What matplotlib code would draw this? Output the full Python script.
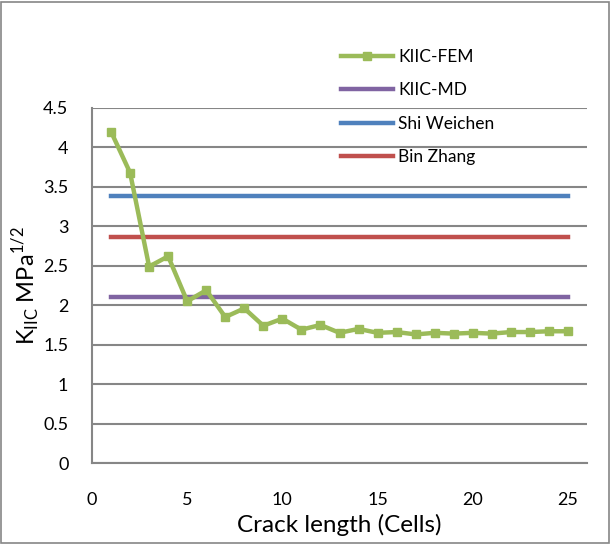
import matplotlib
matplotlib.use("Agg")
import matplotlib.pyplot as plt
from matplotlib.patches import Rectangle

plt.rcParams['font.family'] = ['Lato', 'DejaVu Sans']
plt.rcParams['mathtext.fontset'] = 'custom'
plt.rcParams['mathtext.rm'] = 'Lato'

# Data
crack_cells = list(range(1, 26))
kiic_fem = [4.20, 3.68, 2.49, 2.62, 2.05, 2.19, 1.85, 1.96, 1.74, 1.83,
            1.69, 1.75, 1.65, 1.70, 1.65, 1.66, 1.63, 1.65, 1.64, 1.65,
            1.64, 1.66, 1.66, 1.67, 1.67]
kiic_md = 2.10
shi_weichen = 3.38
bin_zhang = 2.87

series_labels = ['KIIC-FEM', 'KIIC-MD', 'Shi Weichen', 'Bin Zhang']
colors = ['#9BBB59', '#8064A2', '#4F81BD', '#C0504D']
x_ticks = [0, 5, 10, 15, 20, 25]
y_ticks = [0, 0.5, 1, 1.5, 2, 2.5, 3, 3.5, 4, 4.5]

fig = plt.figure(figsize=(6.10, 5.44), dpi=100)
ax = fig.add_axes([92/610, 1-463/544, (587-92)/610, (463-108)/544])

ax.plot(crack_cells, kiic_fem, color=colors[0], lw=3.2, marker='s', ms=6,
        label=series_labels[0], zorder=5)
ax.plot(crack_cells, [kiic_md]*len(crack_cells), color=colors[1], lw=3.2,
        label=series_labels[1], zorder=4)
ax.plot(crack_cells, [shi_weichen]*len(crack_cells), color=colors[2], lw=3.2,
        label=series_labels[2], zorder=4)
ax.plot(crack_cells, [bin_zhang]*len(crack_cells), color=colors[3], lw=3.2,
        label=series_labels[3], zorder=4)

ax.set_xlim(0, 26)
ax.set_ylim(0, 4.5)
ax.set_xticks(x_ticks)
ax.set_yticks(y_ticks)
ax.set_yticklabels(['0', '0.5', '1', '1.5', '2', '2.5', '3', '3.5', '4', '4.5'])
ax.tick_params(axis='both', length=0, labelsize=13, colors='black')
ax.tick_params(axis='x', pad=21)
ax.tick_params(axis='y', pad=17)
ax.grid(axis='y', color='#868686', lw=1.5)
ax.set_axisbelow(True)
for s in ['top', 'right']:
    ax.spines[s].set_visible(False)
for s in ['left', 'bottom']:
    ax.spines[s].set_color('#868686')
    ax.spines[s].set_linewidth(1.5)

ax.set_xlabel('Crack length (Cells)', fontsize=17.5, labelpad=4)
ax.set_ylabel(r'K$_{\mathregular{IIC}}$ MPa$^{\mathregular{1/2}}$', fontsize=17, labelpad=0)

leg = fig.legend(loc='upper left', bbox_to_anchor=(334/610, 1-42/544),
                 frameon=False, fontsize=12.5, handlelength=3.0,
                 handletextpad=0.3, labelspacing=1.0, borderaxespad=0)

fig.patches.append(Rectangle((1/610, 1/544), 608/610, 541/544, transform=fig.transFigure,
                             fill=False, edgecolor='#868686', lw=1.2))

fig.savefig('out.png', dpi=100)
